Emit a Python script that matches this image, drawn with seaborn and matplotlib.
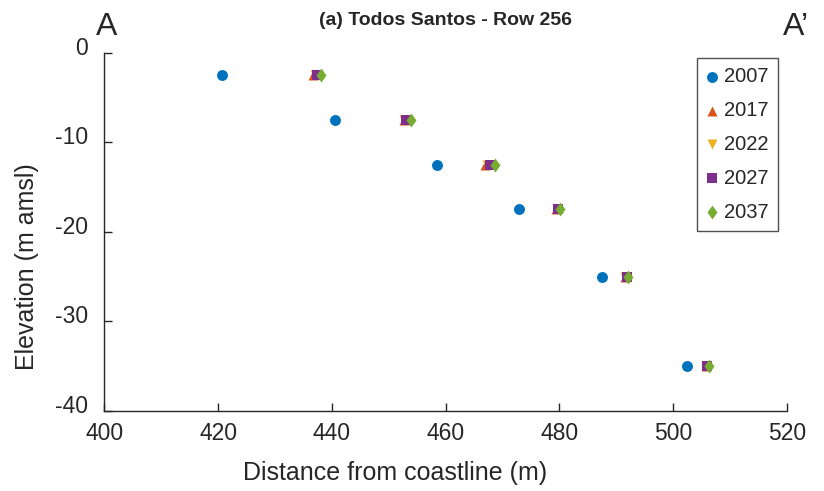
import numpy as np
import pandas as pd
import matplotlib
matplotlib.use("Agg")
import matplotlib.pyplot as plt
import matplotlib.transforms as mtransforms
import seaborn as sns

elev = [-2.5, -7.5, -12.5, -17.5, -25.0, -35.0]
dist_2007 = [420.6, 440.5, 458.4, 472.9, 487.5, 502.4]
dist_2017 = [436.7, 452.6, 466.9, 479.3, 491.5, 505.7]
dist_2022 = [437.0, 452.7, 467.2, 479.5, 491.6, 505.8]
dist_2027 = [437.4, 453.1, 467.8, 479.7, 491.8, 506.0]
dist_2037 = [438.0, 453.9, 468.6, 480.1, 492.1, 506.3]
years = ["2007", "2017", "2022", "2027", "2037"]
x_ticks = [400, 420, 440, 460, 480, 500, 520]
y_ticks = [0, -10, -20, -30, -40]

diamond = [(0, 1), (0.72, 0), (0, -1), (-0.72, 0), (0, 1)]
colors = ["#0072BD", "#D95319", "#EDB120", "#7E2F8E", "#77AC30"]
markers = ["o", "^", "v", "s", diamond]
sizes = [62, 52, 52, 55, 100]

sns.set_theme(style="white")
plt.rcParams["font.family"] = ["Liberation Sans", "DejaVu Sans"]

frames = []
for y, d in zip(years, [dist_2007, dist_2017, dist_2022, dist_2027, dist_2037]):
    frames.append(pd.DataFrame({"dist": d, "elev": elev, "year": y}))
df = pd.concat(frames, ignore_index=True)

fig = plt.figure(figsize=(8.24, 4.91), dpi=100)
ax = fig.add_axes([0.1268, 0.163, 0.8283, 0.730])

for y, c, m, s in zip(years, colors, markers, sizes):
    sub = df[df["year"] == y]
    sns.scatterplot(data=sub, x="dist", y="elev", color=c, marker=m, s=s,
                    linewidth=0, ax=ax, label=y, zorder=3)

ax.set_xlim(400, 520)
ax.set_ylim(-40, 0)
ax.set_xticks(x_ticks)
ax.set_yticks(y_ticks)
ax.set_xticklabels([str(t) for t in x_ticks])
ax.set_yticklabels([str(t) for t in y_ticks])
ax.tick_params(direction="in", length=6, width=1, color="#262626",
               labelsize=16.5, labelcolor="#262626", bottom=True, left=True)
ax.tick_params(axis="x", pad=8)
ax.tick_params(axis="y", pad=12)
offset = mtransforms.ScaledTranslation(0, 5 / 72, fig.dpi_scale_trans)
for lab in ax.get_yticklabels():
    lab.set_transform(lab.get_transform() + offset)
for side in ["top", "right"]:
    ax.spines[side].set_visible(False)
for side in ["left", "bottom"]:
    ax.spines[side].set_color("#262626")
    ax.spines[side].set_linewidth(1)

ax.set_xlabel("Distance from coastline (m)", fontsize=18, color="#262626")
ax.set_ylabel("Elevation (m amsl)", fontsize=18, color="#262626")
ax.xaxis.set_label_coords(0.426, -0.139)
ax.yaxis.set_label_coords(-0.096, 0.404)
ax.set_title("(a) Todos Santos - Row 256", fontsize=14, fontweight="bold", pad=20)

fig.text(96 / 824, 1 - 27 / 491, "A", fontsize=23, ha="left", va="center", color="#262626")
fig.text(783 / 824, 1 - 27 / 491, "A\u2019", fontsize=23, ha="left", va="center", color="#262626")

leg = ax.legend(loc="upper left", bbox_to_anchor=(0.868, 0.985), fontsize=14.5,
                frameon=True, fancybox=False, edgecolor="#262626",
                handlelength=0.6, handletextpad=0.3, labelspacing=0.74,
                borderpad=0.45, borderaxespad=0, markerscale=1.0)
leg.get_frame().set_linewidth(1)

fig.savefig("out.png", dpi=100)
